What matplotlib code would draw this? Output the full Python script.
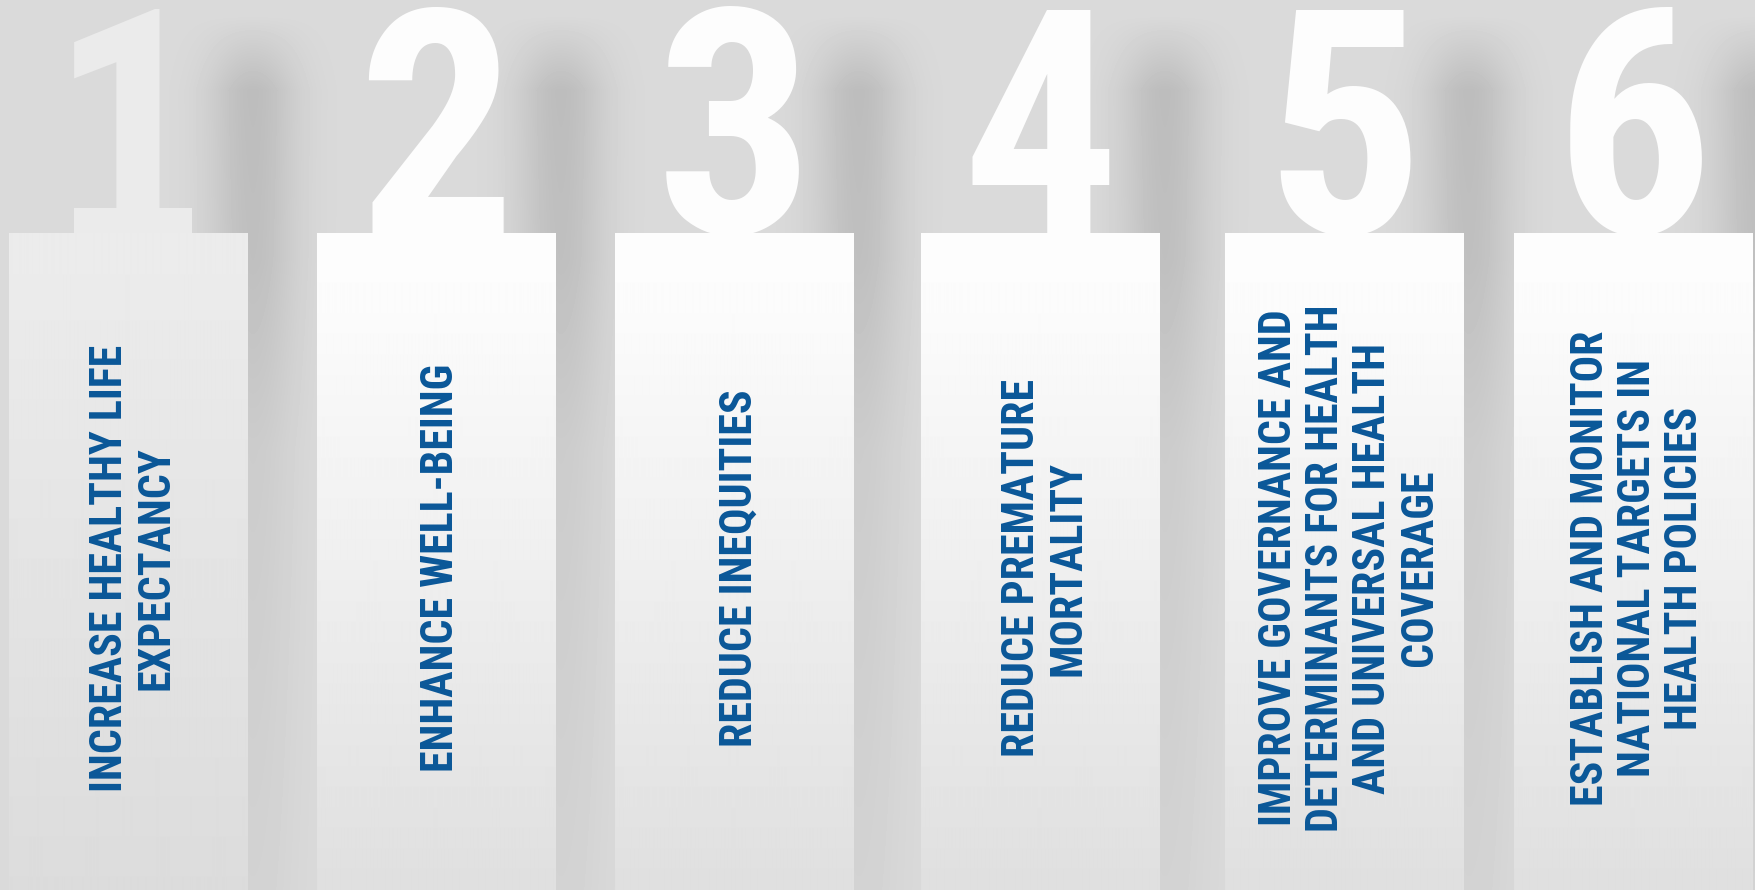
import numpy as np
import matplotlib
matplotlib.use('Agg')
import matplotlib.pyplot as plt
from matplotlib import font_manager
from matplotlib.font_manager import FontProperties
from matplotlib.patches import Rectangle
from matplotlib.textpath import TextToPath

numbers = ['1', '2', '3', '4', '5', '6']
goals = [
    ['INCREASE HEALTHY LIFE', 'EXPECTANCY'],
    ['ENHANCE WELL-BEING'],
    ['REDUCE INEQUITIES'],
    ['REDUCE PREMATURE', 'MORTALITY'],
    ['IMPROVE GOVERNANCE AND', 'DETERMINANTS FOR HEALTH',
     'AND UNIVERSAL HEALTH', 'COVERAGE'],
    ['ESTABLISH AND MONITOR', 'NATIONAL TARGETS IN', 'HEALTH POLICIES'],
]

W, H = 1756, 890
panel_left = [9, 317, 615, 921, 1225, 1514]
panel_w = 239
panel_top = 233
blue = '#0a5798'


def pick_font():
    # a narrow bold sans if one is installed, plain Liberation Sans Bold otherwise
    order = ['Liberation Sans Narrow', 'Roboto', 'Noto Sans', 'Open Sans', 'Lato', 'Inter']
    found = {}
    for f in font_manager.fontManager.ttflist:
        nm = f.name
        st = f.stretch
        narrow = ('Narrow' in nm or 'Cond' in nm or
                  st in ('condensed', 'semi-condensed', 'extra-condensed') or
                  (isinstance(st, (int, float)) and st < 500))
        try:
            wt = int(f.weight)
        except (TypeError, ValueError):
            wt = 700 if 'bold' in str(f.weight) else 400
        if not narrow or wt < 600 or 'CJK' in nm or 'Mono' in nm or 'Serif' in nm:
            continue
        if 'italic' in str(f.style) or 'oblique' in str(f.style):
            continue
        for k, base in enumerate(order):
            if nm.startswith(base):
                found.setdefault(k, []).append(f)
    for k in sorted(found):
        best = sorted(found[k], key=lambda f: abs(int(f.weight) - 700)
                      if str(f.weight).isdigit() else 0)[0]
        return lambda size: FontProperties(fname=best.fname, size=size)
    return lambda size: FontProperties(family='Liberation Sans', weight='bold', size=size)


font = pick_font()

# label size: between "same line length" and "same letter height" as the original
t2p = TextToPath()
w_ref, _, _ = t2p.get_text_width_height_descent('INCREASE HEALTHY LIFE', font(30), ismath=False)
size_len = 30 * (465 * 0.72) / w_ref
size_cap = 30.5
label_size = min(size_len, np.sqrt(size_len * size_cap))

# background: light grey with soft shadows to the right of every column
x = np.arange(W) + 0.5
y = np.arange(H) + 0.5
shadow = np.zeros(W)
for left in panel_left:
    right = left + panel_w
    shadow += np.exp(-((x - (right + 5)) / 45.0) ** 2)
amp = np.interp(y, [0, 15, 90, 260, 450, 890], [0, 0, 0.115, 0.105, 0.055, 0.03])
bg = 0.855 - amp[:, None] * shadow[None, :]

fig = plt.figure(figsize=(W / 100, H / 100), dpi=100)
ax = fig.add_axes([0, 0, 1, 1])
ax.imshow(bg, cmap='gray', vmin=0, vmax=1, extent=[0, W, H, 0],
          interpolation='bilinear', zorder=0)

for i, num in enumerate(numbers):
    left = panel_left[i]
    cx = left + panel_w / 2
    first = i == 0
    top_c, bot_c = (0.925, 0.862) if first else (0.992, 0.875)
    digit_color = '#ebebeb' if first else '#fdfdfd'

    # big number sitting behind the panel
    ax.text(cx, panel_top, num, fontproperties=font(225),
            color=digit_color, ha='center', va='baseline', zorder=2)
    if first:
        ax.add_patch(Rectangle((cx - 54, 208), 118, panel_top - 208,
                               facecolor=digit_color, edgecolor='none', zorder=2))

    # panel with vertical white-to-grey gradient
    grad = np.interp(y[panel_top:], [panel_top, 300, H], [top_c, top_c - 0.005, bot_c])
    ax.imshow(grad[:, None], cmap='gray', vmin=0, vmax=1,
              extent=[left, left + panel_w, H, panel_top],
              interpolation='bilinear', aspect='auto', zorder=3)

    lines = goals[i]
    n = len(lines)
    for j, line in enumerate(lines):
        lx = cx + 5 + (j - (n - 1) / 2) * 47
        ax.text(lx, 568, line, rotation=90, fontproperties=font(label_size),
                color=blue, ha='center', va='center', zorder=4)

ax.set_xlim(0, W)
ax.set_ylim(H, 0)
ax.set_aspect('auto')
ax.axis('off')

fig.savefig('out.png', dpi=100)
